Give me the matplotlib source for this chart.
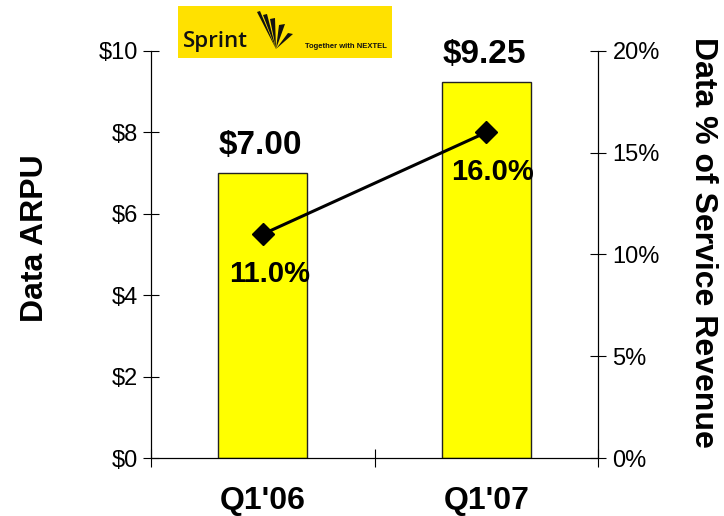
import matplotlib.pyplot as plt
from matplotlib.patches import Rectangle, Polygon

plt.rcParams["font.family"] = ["Liberation Sans", "DejaVu Sans"]

quarters = ["Q1'06", "Q1'07"]
arpu = [7.00, 9.25]
data_pct = [11.0, 16.0]
arpu_ticks = [0, 2, 4, 6, 8, 10]
pct_ticks = [0, 5, 10, 15, 20]

fig = plt.figure(figsize=(7.24, 5.16), dpi=100)
ax = fig.add_axes([0.2086, 0.1124, 0.6174, 0.7888])
x = list(range(len(quarters)))

ax.bar(x, arpu, width=0.40, color="#FFFF00", edgecolor="#222222", linewidth=1.0, zorder=2)
ax.set_xlim(-0.5, 1.5)
ax.set_ylim(0, 10)
ax.set_yticks(arpu_ticks)
ax.set_yticklabels([f"${v}" for v in arpu_ticks], fontsize=17)
ax.tick_params(axis="y", direction="inout", length=11, width=0.8, pad=4)
ax.set_xticks(x)
ax.set_xticklabels(quarters, fontsize=23, fontweight="bold")
ax.tick_params(axis="x", length=0, pad=20)
ax.set_xticks([-0.5, 0.5, 1.5], minor=True)
ax.tick_params(axis="x", which="minor", direction="inout", length=13, width=0.8)
ax.spines["top"].set_visible(False)
for s in ("left", "bottom", "right"):
    ax.spines[s].set_linewidth(0.8)

for xi, v in zip(x, arpu):
    ax.text(xi - 0.01, v + 0.67, f"${v:.2f}", ha="center", va="center",
            fontsize=24, fontweight="bold")

ax2 = ax.twinx()
ax2.set_ylim(0, 20)
ax2.set_yticks(pct_ticks)
ax2.set_yticklabels([f"{v}%" for v in pct_ticks], fontsize=17)
ax2.tick_params(axis="y", direction="inout", length=11, width=0.8, pad=5)
ax2.spines["top"].set_visible(False)
ax2.spines["right"].set_linewidth(0.8)
ax2.plot(x, data_pct, color="black", linewidth=2.2, marker="D", markersize=11, zorder=3)
for xi, v in zip(x, data_pct):
    ax2.text(xi + 0.03, v - 1.95, f"{v:.1f}%", ha="center", va="center",
             fontsize=21, fontweight="bold")

fig.text(35 / 724, 1 - 238 / 516, "Data ARPU", rotation=90, ha="center", va="center",
         fontsize=23, fontweight="bold")
fig.text(703 / 724, 1 - 242 / 516, "Data % of Service Revenue", rotation=-90,
         ha="center", va="center", fontsize=23, fontweight="bold")

# Sprint / Nextel logo banner
logo = fig.add_axes([178 / 724, 1 - 58 / 516, 214 / 724, 52 / 516])
logo.set_xlim(0, 214)
logo.set_ylim(0, 52)
logo.axis("off")
logo.add_patch(Rectangle((0, 0), 214, 52, color="#FFE100"))
logo.text(5, 11, "Sprint", fontsize=16, family="Open Sans", fontweight="semibold",
          color="#111111", va="baseline", ha="left")
# fan of blades converging at the bottom
apex = (98, 9)
blades = [((79, 46), (82, 47)), ((85, 43), (89, 44)), ((92, 39), (97, 40)),
          ((101, 33), (107, 34)), ((110, 25), (115, 24))]
for a, b in blades:
    logo.add_patch(Polygon([apex, a, b], closed=True, color="#111111", lw=0))
logo.text(127, 11, "Together with NEXTEL", fontsize=5.5, fontweight="bold",
          color="#111111", va="center", ha="left")

fig.savefig("out.png", dpi=100)
